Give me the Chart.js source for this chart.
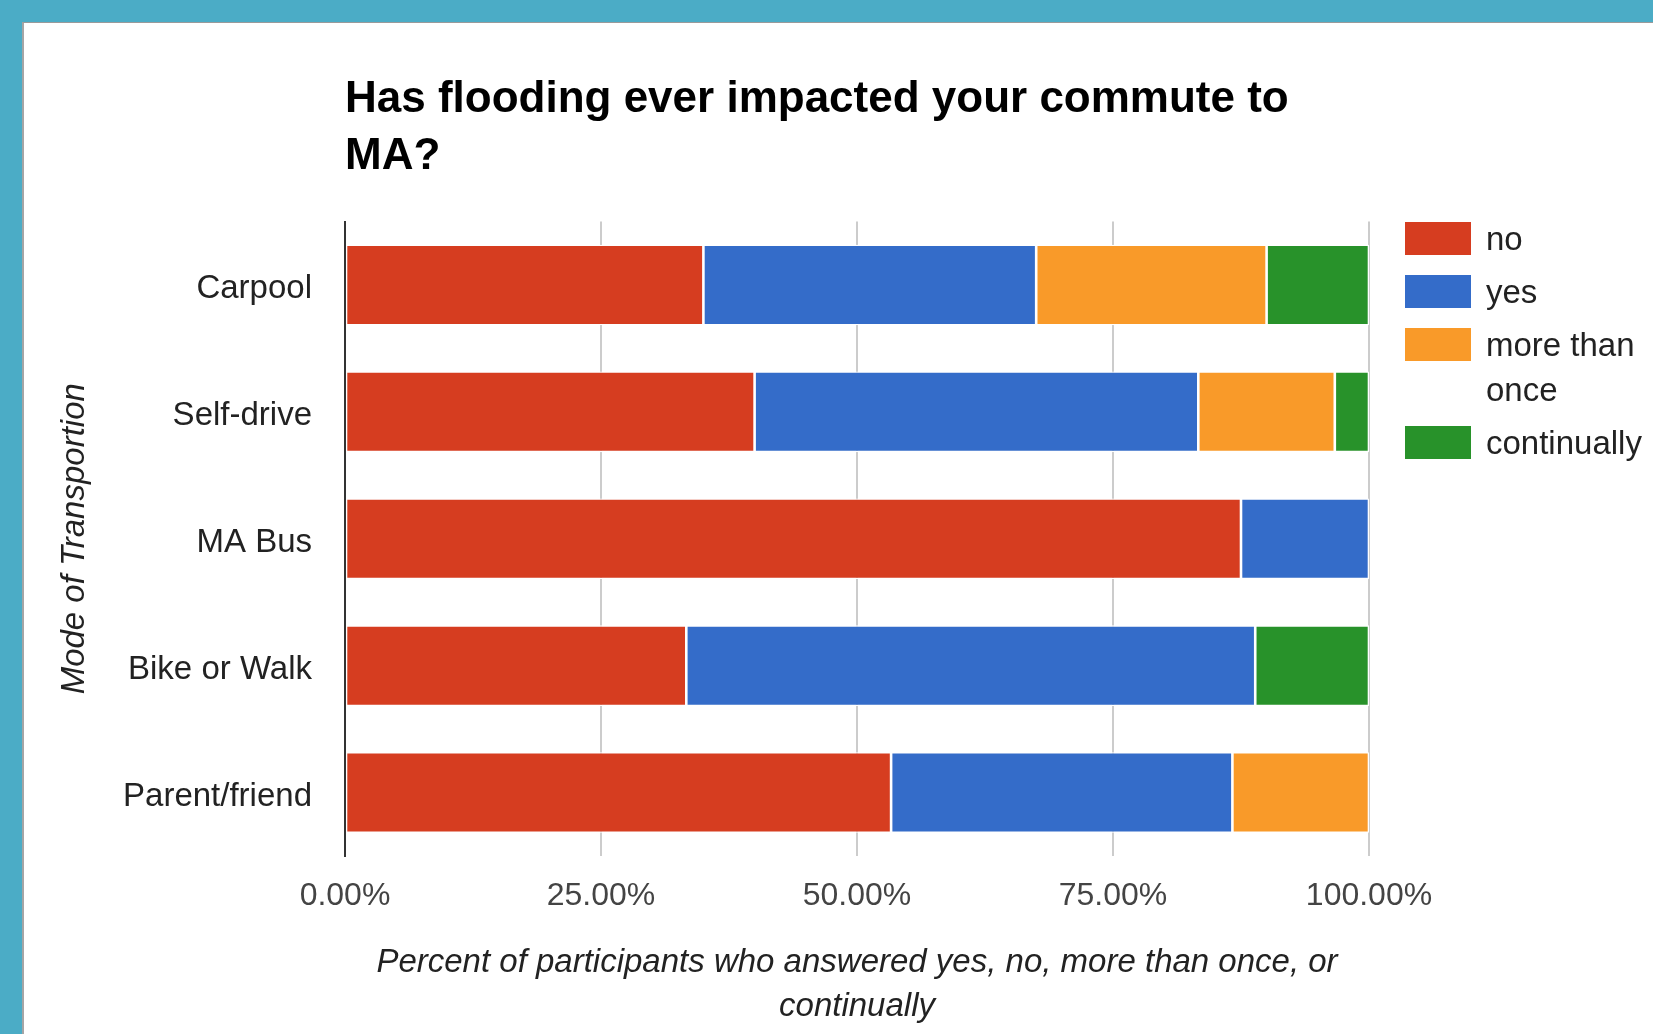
<!DOCTYPE html>
<html lang="en">
<head>
  <meta charset="UTF-8">
  <title>Flooding and commute</title>
  <style>
    html, body {
      margin: 0;
      padding: 0;
      width: 1653px;
      height: 1034px;
      overflow: hidden;
      background: #4bacc6;
    }
    .panel {
      position: absolute;
      left: 22px;
      top: 22px;
      width: 1640px;
      height: 1030px;
      background: #fff;
      border-top: 1px solid #9a9a9a;
      border-left: 2px solid #a5a5a5;
    }
    canvas {
      position: absolute;
      left: 0;
      top: 0;
    }
  </style>
</head>
<body>
  <div class="panel"></div>
  <canvas id="grafico" width="1653" height="1034"></canvas>

  <script src="https://cdn.jsdelivr.net/npm/chart.js"></script>
  <script>
    const modes = ['Carpool', 'Self-drive', 'MA Bus', 'Bike or Walk', 'Parent/friend'];
    const answers = ['no', 'yes', 'more than once', 'continually'];
    const noPct = [35, 40, 87.5, 33.33, 53.33];
    const yesPct = [32.5, 43.33, 12.5, 55.56, 33.33];
    const moreThanOncePct = [22.5, 13.33, 0, 0, 13.34];
    const continuallyPct = [10, 3.34, 0, 11.11, 0];
    const colors = ['#d63d20', '#346cc9', '#f99a29', '#28922a'];
    const tickValues = [0, 25, 50, 75, 100];
    const tickLabels = ['0.00%', '25.00%', '50.00%', '75.00%', '100.00%'];

    const titleLines = ['Has flooding ever impacted your commute to', 'MA?'];
    const xTitle = ['Percent of participants who answered yes, no, more than once, or', 'continually'];
    const yTitle = 'Mode of Transportion';

    const FONT = "Arial, 'Liberation Sans', sans-serif";
    const series = [noPct, yesPct, moreThanOncePct, continuallyPct];

    // title and wrapped legend drawn next to the chart area
    const extras = {
      id: 'extras',
      afterDraw(chart) {
        const ctx = chart.ctx;
        const area = chart.chartArea;
        ctx.save();
        ctx.fillStyle = '#000';
        ctx.font = 'bold 44px ' + FONT;
        ctx.textBaseline = 'middle';
        ctx.textAlign = 'left';
        ctx.fillText(titleLines[0], area.left, area.top - 122);
        ctx.fillText(titleLines[1], area.left, area.top - 65);

        ctx.font = '33px ' + FONT;
        const boxX = area.right + 36;
        const textX = boxX + 81;
        const maxW = chart.width - textX;
        let y = area.top + 19.5;
        answers.forEach((name, i) => {
          ctx.fillStyle = colors[i];
          ctx.fillRect(boxX, y - 19, 66, 33);
          // simple word wrap
          const words = name.split(' ');
          const lines = [];
          let line = '';
          words.forEach(w => {
            const test = line ? line + ' ' + w : w;
            if (line && ctx.measureText(test).width > maxW) {
              lines.push(line);
              line = w;
            } else {
              line = test;
            }
          });
          lines.push(line);
          ctx.fillStyle = '#222';
          lines.forEach((l, k) => ctx.fillText(l, textX, y + k * 45));
          y += 53 + (lines.length - 1) * 45;
        });
        ctx.restore();
      }
    };

    new Chart(document.getElementById('grafico'), {
      type: 'bar',
      data: {
        labels: modes,
        datasets: answers.map((name, i) => ({
          label: name,
          data: series[i],
          backgroundColor: colors[i],
          borderColor: '#fff',
          borderWidth: 1.3,
          borderSkipped: false,
          barPercentage: 0.635,
          categoryPercentage: 1
        }))
      },
      options: {
        indexAxis: 'y',
        responsive: false,
        animation: false,
        layout: { padding: { top: 221.5, right: 284, bottom: 0, left: 0 } },
        plugins: {
          legend: { display: false },
          title: { display: false },
          tooltip: { enabled: false }
        },
        scales: {
          x: {
            stacked: true,
            min: 0,
            max: 100,
            afterFit: s => { s.height = 178; },
            afterBuildTicks: s => { s.ticks = tickValues.map(v => ({ value: v })); },
            grid: {
              color: c => c.tick && c.tick.value === 0 ? '#333' : '#cccccc',
              lineWidth: 2,
              drawTicks: false
            },
            border: { display: false },
            ticks: {
              padding: 21,
              color: '#444',
              font: { family: FONT, size: 32 },
              callback: v => tickLabels[tickValues.indexOf(v)]
            },
            title: {
              display: true,
              text: xTitle,
              color: '#222',
              font: { family: FONT, size: 33, style: 'italic', lineHeight: 1.333 },
              padding: { top: 0, bottom: 5 }
            }
          },
          y: {
            stacked: true,
            afterFit: s => { s.width = 345; },
            grid: { display: false, drawTicks: false },
            border: { display: true, color: '#333', width: 2 },
            ticks: {
              padding: 33,
              labelOffset: 4,
              color: '#222',
              font: { family: FONT, size: 33 }
            },
            title: {
              display: true,
              text: yTitle,
              color: '#222',
              font: { family: FONT, size: 33, style: 'italic' },
              padding: { top: 55, bottom: 0 }
            }
          }
        }
      },
      plugins: [extras]
    });
  </script>
</body>
</html>
